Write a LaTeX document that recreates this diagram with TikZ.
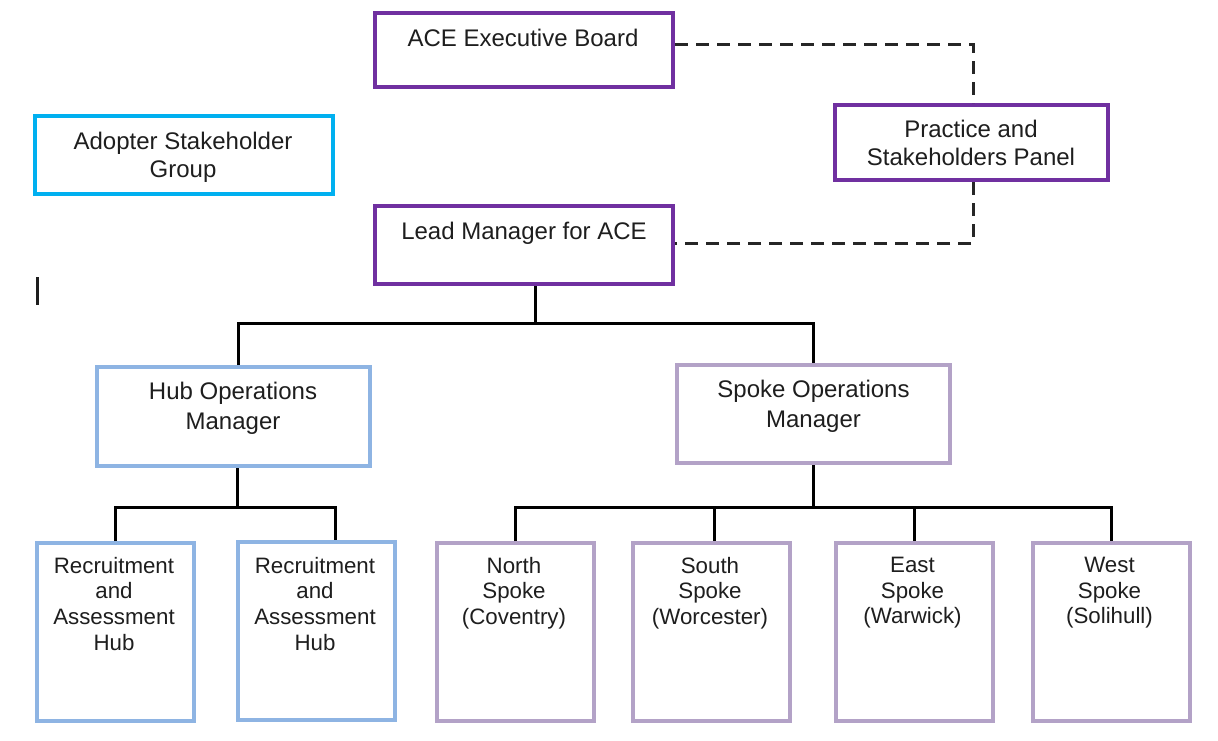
\documentclass[tikz,border=0pt]{standalone}
\usepackage{fontspec}
\setmainfont{Liberation Sans}
\definecolor{execpurple}{HTML}{7030A0}
\definecolor{adoptcyan}{HTML}{00B0F0}
\definecolor{hubblue}{HTML}{8EB4E3}
\definecolor{spokelav}{HTML}{B3A2C7}
\definecolor{ink}{HTML}{1E1E1E}
\begin{document}
\begin{tikzpicture}[x=1pt,y=-1pt,
  boxbase/.style={draw, line width=4pt, inner sep=0pt, fill=white},
  purplebox/.style={boxbase, draw=execpurple},
  cyanbox/.style={boxbase, draw=adoptcyan},
  hubbox/.style={boxbase, draw=hubblue},
  spokebox/.style={boxbase, draw=spokelav},
  leafsize/.style={minimum width=157pt, minimum height=178pt},
  toptext/.style={anchor=north, inner sep=0pt, align=center, text=ink, font=\fontsize{24}{28}\selectfont},
  opstext/.style={toptext, font=\fontsize{24}{30}\selectfont},
  leaftext/.style={toptext, font=\fontsize{22.3}{25.8}\selectfont},
  conn/.style={draw=black, line width=3pt},
  dashline/.style={draw=black!85, line width=3pt, dash pattern=on 13pt off 8pt}
]
\useasboundingbox (0,0) rectangle (1218,740);

% top level
\node[purplebox, minimum width=298pt, minimum height=74pt] (exec) at (524,50) {};
\node[toptext] (exec-t) at (523,28.5) {ACE Executive Board};

\node[cyanbox, minimum width=298pt, minimum height=78pt] (adopt) at (184,155) {};
\node[toptext] (adopt-t) at (183,131.5) {Adopter Stakeholder\\Group};

\node[purplebox, minimum width=273pt, minimum height=75pt] (panel) at (971.5,142.5) {};
\node[toptext] (panel-t) at (971,120) {Practice and\\Stakeholders Panel};

\node[purplebox, minimum width=298pt, minimum height=78pt] (lead) at (524,245) {};
\node[toptext] (lead-t) at (524,221.7) {Lead Manager for ACE};

% operations managers
\node[hubbox, minimum width=273pt, minimum height=99pt] (hubops) at (233.5,416.5) {};
\node[opstext] (hubops-t) at (233,382) {Hub Operations\\Manager};

\node[spokebox, minimum width=273pt, minimum height=98pt] (spokeops) at (813.5,414) {};
\node[opstext] (spokeops-t) at (813.5,380) {Spoke Operations\\Manager};

% leaves
\node[hubbox, leafsize] (r1) at (115.5,632) {};
\node[leaftext] (r1-t) at (114,556.7) {Recruitment\\and\\Assessment\\Hub};
\node[hubbox, leafsize] (r2) at (316.5,631) {};
\node[leaftext] (r2-t) at (315,556.7) {Recruitment\\and\\Assessment\\Hub};

\node[spokebox, leafsize] (north) at (515,632) {};
\node[leaftext] (north-t) at (514,556.7) {North\\Spoke\\(Coventry)};
\node[spokebox, leafsize] (south) at (711,632) {};
\node[leaftext] (south-t) at (710,556.7) {South\\Spoke\\(Worcester)};
\node[spokebox, leafsize] (east) at (914,632) {};
\node[leaftext] (east-t) at (912.5,556.7) {East\\Spoke\\(Warwick)};
\node[spokebox, leafsize] (west) at (1111,632) {};
\node[leaftext] (west-t) at (1109.5,556.7) {West\\Spoke\\(Solihull)};

% dashed links to the panel
\draw[dashline] ([yshift=6pt]exec.east) -| ([xshift=1.5pt]panel.north);
\draw[dashline] ([xshift=1.5pt]panel.south) |- ([yshift=2pt]lead.east);

% tree connectors
\coordinate (j1) at (535,323);
\draw[conn] (lead.south -| j1) -- (j1);
\draw[conn] ([xshift=4.5pt]hubops.north) |- (j1) -| (spokeops.north);

\coordinate (j2) at (237,507);
\draw[conn] (hubops.south -| j2) -- (j2);
\draw[conn] (r1.north) |- (j2) -| ([xshift=19pt]r2.north);

\coordinate (j3) at (813,507);
\draw[conn] (spokeops.south -| j3) -- (j3);
\draw[conn] (north.north) |- (j3) -| (west.north);
\draw[conn] ([xshift=3pt]south.north) -- ([xshift=3pt]south.north |- j3);
\draw[conn] (east.north) -- (east.north |- j3);

% stray bar at the left
\draw[line width=3pt, draw=ink] (37.5,277) -- (37.5,305);
\end{tikzpicture}
\end{document}
